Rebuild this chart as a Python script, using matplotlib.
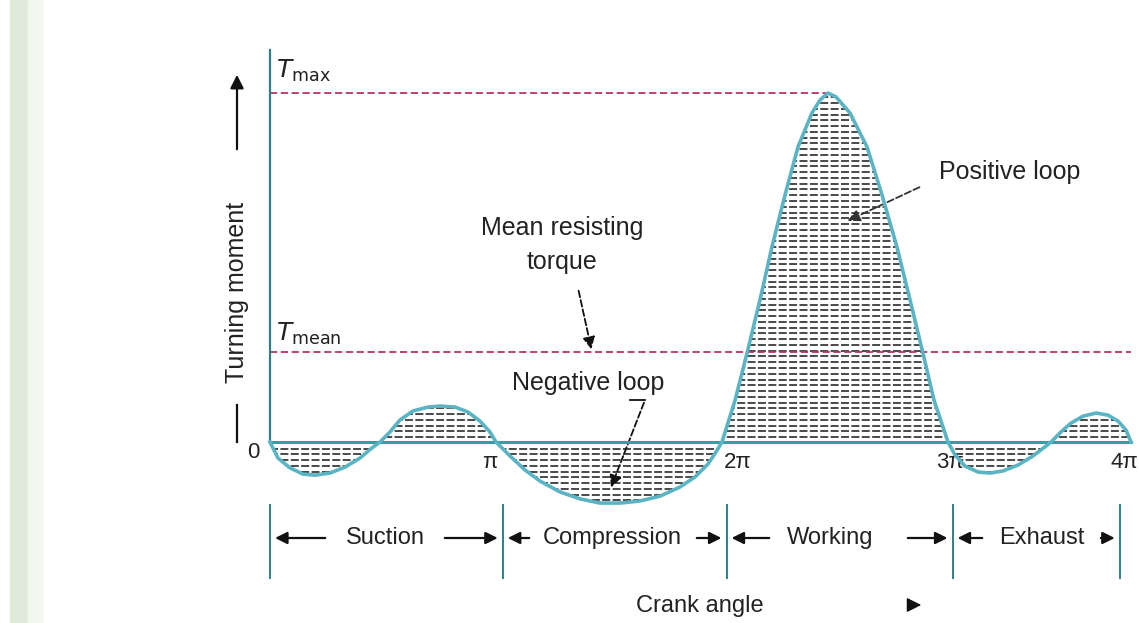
import matplotlib
matplotlib.use("Agg")
import matplotlib.pyplot as plt
from matplotlib.path import Path
from matplotlib.patches import Rectangle
import numpy as np

plt.rcParams['font.family'] = ['Liberation Sans', 'DejaVu Sans']

# ---- data: crank angle (units of pi) and turning moment (fraction of T_max) ----
crank_angle = [0.000, 0.035, 0.088, 0.146, 0.199, 0.265, 0.332, 0.398, 0.451, 0.487,
               0.531, 0.575, 0.633, 0.699, 0.752, 0.819, 0.876, 0.929, 0.973, 1.000,
               1.062, 1.128, 1.195, 1.283, 1.372, 1.460, 1.549, 1.637, 1.726, 1.814,
               1.881, 1.938, 1.973, 2.000,
               2.058, 2.111, 2.168, 2.221, 2.279, 2.336, 2.398, 2.434, 2.469, 2.504,
               2.566, 2.642, 2.708, 2.774, 2.832, 2.889, 2.938, 3.000,
               3.031, 3.075, 3.133, 3.186, 3.243, 3.310, 3.376, 3.429, 3.456, 3.500,
               3.544, 3.597, 3.655, 3.708, 3.752, 3.788, 3.810]
turning_moment = [0, -0.046, -0.074, -0.092, -0.095, -0.089, -0.072, -0.046, -0.017, 0,
                  0.029, 0.063, 0.089, 0.100, 0.103, 0.100, 0.086, 0.060, 0.029, 0,
                  -0.040, -0.080, -0.112, -0.143, -0.163, -0.175, -0.175, -0.169, -0.155, -0.129,
                  -0.100, -0.063, -0.029, 0,
                  0.120, 0.255, 0.407, 0.559, 0.708, 0.845, 0.943, 0.980, 1.0, 0.989,
                  0.943, 0.845, 0.708, 0.559, 0.407, 0.255, 0.120, 0,
                  -0.037, -0.069, -0.086, -0.089, -0.083, -0.066, -0.040, -0.014, 0, 0.029,
                  0.054, 0.074, 0.083, 0.077, 0.060, 0.034, 0]
T_max = 1.0
T_mean = 0.258
peak_angle = 2.469
tick_pos = [0, 1, 2, 3, 3.81]
tick_labels = ['0', 'π', '2π', '3π', '4π']
stroke_bounds = [0, 1.03, 2.02, 3.02, 3.76]
stroke_names = ['Suction', 'Compression', 'Working', 'Exhaust']

W, H = 1139, 623
fig = plt.figure(figsize=(W / 100, H / 100), dpi=100)
ax = fig.add_axes([0, 0, 1, 1])
# pixel-like layout: 226 px per pi, origin at (270, 442), T_max = 349 px
X0, Y0, SX, SY = 270, 442, 226, 349
ax.set_xlim(-X0 / SX, (W - X0) / SX)
ax.set_ylim((Y0 - H) / SY, Y0 / SY)
ax.axis('off')


def P(px, py):
    return ((px - X0) / SX, (Y0 - py) / SY)


# left green strip
fig.patches.append(Rectangle((10 / W, 0), 18 / W, 1, transform=fig.transFigure,
                             color='#e0eadb', zorder=0))
fig.patches.append(Rectangle((28 / W, 0), 14 / W, 1, transform=fig.transFigure,
                             color='#f3f8ef', zorder=0))

x = np.array(crank_angle)
y = np.array(turning_moment)

# hatching (dashed horizontal lines clipped to the loops)
verts = list(zip(x, y)) + [(x[-1], 0.0), (x[0], 0.0), (x[0], y[0])]
codes = [Path.MOVETO] + [Path.LINETO] * (len(verts) - 2) + [Path.CLOSEPOLY]
loop_path = Path(verts, codes)
levels = np.arange(-0.19, 1.0, 0.0165) + 0.006
hl = ax.hlines(levels, x[0], x[-1], colors='#222222', linewidth=1.15,
               linestyles=(0, (5, 1.5)), zorder=2)
hl.set_clip_path(loop_path, ax.transData)

# reference lines
ax.plot([0, peak_angle], [T_max, T_max], color='#b8336a', lw=1.3, ls=(0, (4, 2)), zorder=3)
ax.plot([0, x[-1]], [T_mean, T_mean], color='#b8336a', lw=1.3, ls=(0, (4, 2)), zorder=3)

# axes lines
ax.plot([0, 0], [0, P(0, 50)[1]], color='#2f7f8a', lw=1.6, zorder=4)
ax.plot([0, x[-1]], [0, 0], color='#3f98a6', lw=2.2, zorder=4)

# curve
ax.plot(x, y, color='#5ab4c4', lw=2.6, solid_joinstyle='round', zorder=5)

# T labels
ax.text(*P(276, 84), r'$T_{\rm max}$', fontsize=18, color='#222', va='bottom', ha='left')
ax.text(*P(276, 347), r'$T_{\rm mean}$', fontsize=18, color='#222', va='bottom', ha='left')

# tick labels
lab_px = [(253, 453), (490, 462), (738, 462), (950, 462), (1124, 462)]
for tp, lab, (lx, ly) in zip(tick_pos, tick_labels, lab_px):
    ax.text(*P(lx, ly), lab, fontsize=16, ha='center', va='center', color='#222')

# y label
ax.text(*P(237, 292), 'Turning moment', rotation=90, fontsize=18, ha='center', va='center', color='#222')
ax.annotate('', xy=P(237, 72), xytext=P(237, 152),
            arrowprops=dict(arrowstyle='-|>', color='#111', lw=1.6, mutation_scale=20))
ax.plot(*zip(P(237, 405), P(237, 442)), color='#111', lw=1.6)

# annotations
ax.text(*P(562, 228), 'Mean resisting', fontsize=18, ha='center', va='center', color='#222')
ax.text(*P(562, 262), 'torque', fontsize=18, ha='center', va='center', color='#222')
ax.annotate('', xy=P(592, 352), xytext=P(578, 288),
            arrowprops=dict(arrowstyle='-|>', color='#111', lw=1.3, ls='--', mutation_scale=18))

ax.text(*P(588, 383), 'Negative loop', fontsize=18, ha='center', va='center', color='#222')
ax.plot(*zip(P(630, 400), P(645, 400)), color='#111', lw=1.3)
ax.annotate('', xy=P(610, 490), xytext=P(645, 400),
            arrowprops=dict(arrowstyle='-|>', color='#111', lw=1.3, ls='--', mutation_scale=18))

ax.text(*P(1010, 172), 'Positive loop', fontsize=18, ha='center', va='center', color='#222')
ax.annotate('', xy=P(845, 222), xytext=P(922, 186),
            arrowprops=dict(arrowstyle='-|>', color='#333', lw=1.3, ls='--', mutation_scale=18))

# stroke row
row_y = P(0, 538)[1]
for b in stroke_bounds:
    ax.plot([b, b], [P(0, 505)[1], P(0, 578)[1]], color='#2f7f8a', lw=1.4)
label_px = [385, 612, 830, 1042]
arrow_px = [(328, 442), (532, 694), (772, 905), (985, 1098)]
for i, name in enumerate(stroke_names):
    ax.text(P(label_px[i], 0)[0], row_y, name, fontsize=17, ha='center', va='center', color='#222')
    a0, a1 = arrow_px[i]
    ax.annotate('', xy=(stroke_bounds[i] + 0.01, row_y), xytext=(P(a0, 0)[0], row_y),
                arrowprops=dict(arrowstyle='-|>', color='#111', lw=1.6, mutation_scale=18))
    ax.annotate('', xy=(stroke_bounds[i + 1] - 0.01, row_y), xytext=(P(a1, 0)[0], row_y),
                arrowprops=dict(arrowstyle='-|>', color='#111', lw=1.6, mutation_scale=18))

ax.text(*P(700, 606), 'Crank angle', fontsize=17, ha='center', va='center', color='#222')
ax.annotate('', xy=P(924, 605), xytext=P(912, 605),
            arrowprops=dict(arrowstyle='-|>', color='#111', lw=1.0, mutation_scale=22))

fig.savefig('out.png', dpi=100)
